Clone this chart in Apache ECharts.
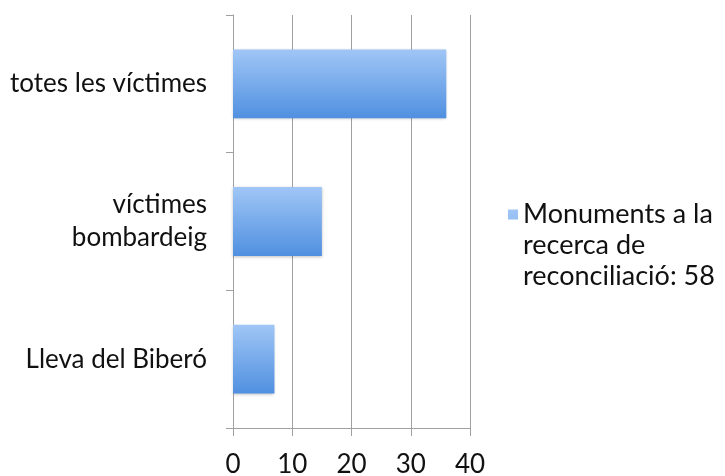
<!DOCTYPE html>
<html><head><meta charset="utf-8">
<script src="https://cdn.jsdelivr.net/npm/echarts@6/dist/echarts.min.js"></script>
<style>html,body{margin:0;padding:0;background:#fff}#c{width:725px;height:476px}</style>
</head><body><div id="c"></div>
<script>
const categories = ['totes les víctimes', 'víctimes\nbombardeig', 'Lleva del Biberó'];
const values = [36, 15, 7];
const seriesName = 'Monuments a la\nrecerca de\nreconciliació: 58';
const xTicks = [0, 10, 20, 30, 40];

const chart = echarts.init(document.getElementById('c'));
const font = 'Lato, "Open Sans", sans-serif';
chart.setOption({
  animation: false,
  grid: { left: 233, right: 255, top: 15, bottom: 48, containLabel: false, outerBoundsMode: 'none' },
  legend: {
    orient: 'vertical', left: 503, top: 194, padding: 5,
    itemWidth: 10, itemHeight: 72, itemGap: 0,
    icon: 'path://M0,0L10,0L10,10L0,10Z M0,72L0.001,72L0,72.001Z',
    textStyle: { fontFamily: font, fontSize: 27, color: '#111', lineHeight: 31 },
    data: [seriesName]
  },
  xAxis: {
    type: 'value', min: xTicks[0], max: xTicks[xTicks.length - 1], interval: 10,
    axisLine: { show: true, lineStyle: { color: '#a0a0a0', width: 1 } },
    axisTick: { show: true, length: 8, lineStyle: { color: '#a0a0a0' } },
    splitLine: { show: true, lineStyle: { color: '#a0a0a0', width: 1 } },
    axisLabel: { fontFamily: font, fontSize: 26, color: '#111', margin: 24 }
  },
  yAxis: {
    type: 'category', inverse: true, data: categories,
    axisLine: { show: true, lineStyle: { color: '#a0a0a0', width: 1 } },
    axisTick: { show: true, length: 7, lineStyle: { color: '#a0a0a0' } },
    axisLabel: { fontFamily: font, fontSize: 26, color: '#111', margin: 26, lineHeight: 33, align: 'right' }
  },
  series: [{
    name: seriesName, type: 'bar', data: values, barCategoryGap: '50%',
    itemStyle: {
      color: new echarts.graphic.LinearGradient(0, 0, 0, 1, [
        { offset: 0, color: '#a0c6f6' },
        { offset: 1, color: '#5090e0' }
      ]),
      shadowColor: 'rgba(0,0,0,0.25)', shadowBlur: 3, shadowOffsetY: 1
    }
  }]
});
</script></body></html>
